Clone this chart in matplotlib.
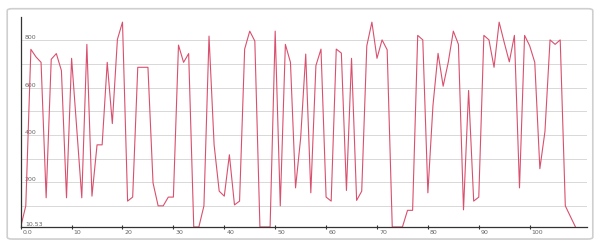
import matplotlib
matplotlib.use("Agg")
import matplotlib.pyplot as plt
from matplotlib.patches import FancyBboxPatch
from matplotlib.transforms import ScaledTranslation

# values, one per integer step
y_min = 10.53
values = [
    10.53, 100, 762, 730, 707, 134, 720, 744, 672, 134,
    724, 430, 134, 783, 141, 358, 358, 707, 448, 804,
    877, 120, 137, 686, 686, 686, 197, 100, 100, 137,
    137, 780, 707, 744, 10.53, 10.53, 100, 818, 358, 162,
    141, 316, 104, 120, 763, 839, 797, 10.53, 10.53, 10.53,
    839, 100, 783, 707, 176, 386, 742, 155, 693, 763,
    137, 120, 763, 746, 165, 724, 123, 162, 777, 877,
    724, 802, 760, 10.53, 10.53, 10.53, 81, 81, 821, 802,
    155, 525, 745, 606, 707, 839, 783, 83, 588, 120,
    137, 821, 802, 686, 877, 791, 709, 821, 176, 821,
    777, 707, 257, 414, 802, 783, 802, 100, 55, 10.53,
]
x_values = list(range(len(values)))

x_ticks = [0, 10, 20, 30, 40, 50, 60, 70, 80, 90, 100]
x_tick_labels = ["0.0", "10", "20", "30", "40", "50", "60", "70", "80", "90", "100"]
y_ticks = [y_min, 200, 400, 600, 800]
y_tick_labels = ["10.53", "200", "400", "600", "800"]
y_minor = [100, 300, 500, 700]

fig = plt.figure(figsize=(6.0, 2.49), dpi=100)

# light rounded frame around the whole chart, kept behind the axes
frame = FancyBboxPatch((0.012, 0.04), 0.976, 0.925,
                       boxstyle="round,pad=0,rounding_size=0.008",
                       transform=fig.transFigure, facecolor="white",
                       edgecolor="#cfcfcf", linewidth=1.2, zorder=-5)
fig.patches.append(frame)

ax = fig.add_axes([0.0345, 0.0884, 0.9433, 0.8445])
ax.patch.set_alpha(0)

ax.plot(x_values, values, color="#d9506e", linewidth=0.8)

ax.set_xlim(0, 111.2)
ax.set_ylim(y_min, 900)

for s in ["top", "right"]:
    ax.spines[s].set_visible(False)
ax.spines["left"].set_color("#333333")
ax.spines["bottom"].set_color("#333333")
ax.spines["left"].set_linewidth(0.9)
ax.spines["bottom"].set_linewidth(0.9)

ax.set_yticks(y_ticks)
ax.set_yticklabels(y_tick_labels)
ax.set_yticks(y_minor, minor=True)
ax.yaxis.grid(True, which="both", color="#d8d8d8", linewidth=0.7)
ax.set_axisbelow(True)
ax.tick_params(axis="y", which="both", length=0, pad=-3,
               labelsize=4.5, labelcolor="#666666")
for lbl in ax.get_yticklabels():
    lbl.set_horizontalalignment("left")
    lbl.set_verticalalignment("bottom")

ax.set_xticks(x_ticks)
ax.set_xticklabels(x_tick_labels)
ax.tick_params(axis="x", length=3, direction="inout", width=0.8, color="#333333",
               pad=1, labelsize=4.5, labelcolor="#666666")
shift = ScaledTranslation(1.5 / 72, 0, fig.dpi_scale_trans)
for lbl in ax.get_xticklabels():
    lbl.set_horizontalalignment("left")
    lbl.set_transform(lbl.get_transform() + shift)

plt.savefig("out.png", dpi=100)
